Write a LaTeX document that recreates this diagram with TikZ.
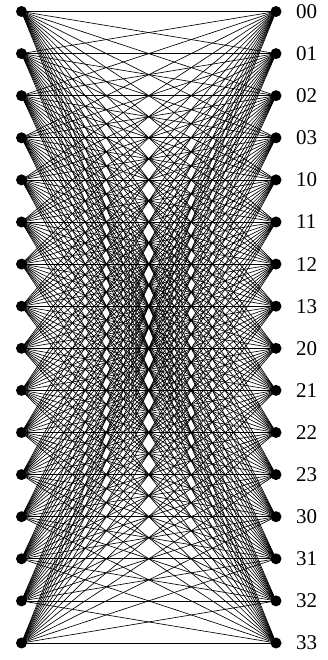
\documentclass[tikz,border=0pt]{standalone}
\usepackage{fontspec}
\setmainfont{Liberation Serif}
\begin{document}
\begin{tikzpicture}[x=1pt,y=1pt,
  dot/.style={circle,fill=black,inner sep=0pt,minimum size=11pt},
  lab/.style={anchor=west,inner sep=0pt,font=\fontsize{21}{21}\selectfont},
  edge/.style={line width=0.65pt}]
\useasboundingbox (0,0) rectangle (327,660);
\foreach \a in {0,...,3}{
  \foreach \b in {0,...,3}{
    \pgfmathsetmacro{\yy}{660-(11.5+42.1*(4*\a+\b))}
    \coordinate (L\a\b) at (21.5,\yy);
    \coordinate (R\a\b) at (276,\yy);
    \node[lab] (T\a\b) at (296,\yy) {\a\b};
  }
}
\foreach \a in {0,...,3}{
  \foreach \b in {0,...,3}{
    \foreach \c in {0,...,3}{
      \foreach \d in {0,...,3}{
        \draw[edge] (L\a\b) -- (R\c\d);
      }
    }
  }
}
\foreach \a in {0,...,3}{
  \foreach \b in {0,...,3}{
    \node[dot] (DL\a\b) at (L\a\b) {};
    \node[dot] (DR\a\b) at (R\a\b) {};
  }
}
\end{tikzpicture}
\end{document}
